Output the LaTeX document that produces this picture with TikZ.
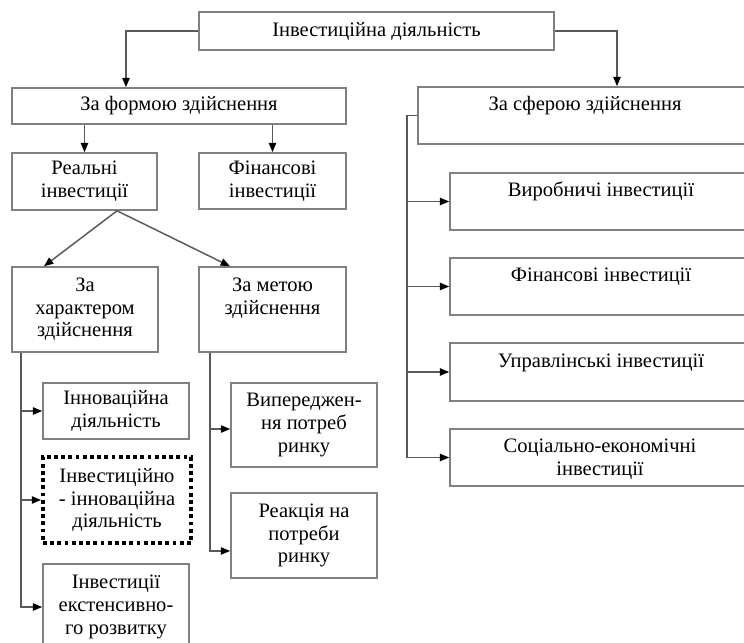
\documentclass[tikz,border=0pt]{standalone}
\usepackage{fontspec}
\setmainfont{Liberation Serif}
\usetikzlibrary{arrows.meta,calc}
\begin{document}
\begin{tikzpicture}[x=0.75pt,y=-0.75pt,
  lbl/.style={font=\fontsize{15.4}{17}\selectfont, align=center, text=black},
  box/.style={lbl, draw=black!50, line width=1.2pt, inner sep=0pt},
  dotbox/.style={lbl, draw=black, line width=2.8pt, dash pattern=on 2.8pt off 2.6pt, inner sep=0pt},
  txt/.style={lbl, inner sep=0pt},
  arr/.style={draw=black!65, line width=1.1pt, -{Triangle[length=7pt,width=5.5pt,black]}}]
\useasboundingbox (0,0) rectangle (744,643);
\clip (0,0) rectangle (744,643);
% boxes
\node[box, minimum width=266.25pt, minimum height=28.5pt] (top) at (376.5,31) {Інвестиційна діяльність};
\node[box, minimum width=250.5pt, minimum height=27pt] (forma) at (179,106) {За формою здійснення};
\node[box, minimum width=279pt, minimum height=42.75pt] (sfera) at (604,115.5) {};
\node[txt] (sferat) at (585,106) {За сферою здійснення};
\node[box, minimum width=108.75pt, minimum height=42.75pt] (real) at (84.5,181.5) {Реальні\\інвестиції};
\node[box, minimum width=110.25pt, minimum height=42pt] (fin) at (272.5,181) {Фінансові\\інвестиції};
\node[box, minimum width=109.5pt, minimum height=63.75pt] (char) at (85,309.5) {За\\характером\\здійснення};
\node[box, minimum width=110.25pt, minimum height=63.75pt] (meta) at (272.5,309.5) {};
\node[txt] (metat) at (272.5,298) {За метою\\здійснення};
\node[box, minimum width=109.5pt, minimum height=42pt] (innov) at (116,411) {Інноваційна\\діяльність};
\node[dotbox, minimum width=111pt, minimum height=64.5pt] (dots) at (117,500) {Інвестиційно\\- інноваційна\\діяльність};
\node[box, minimum width=109.5pt, minimum height=64.5pt] (ext) at (116,607) {Інвестиції\\екстенсивно-\\го розвитку};
\node[box, minimum width=109.5pt, minimum height=63pt] (vyp) at (304,425) {Випереджен-\\ня потреб\\ринку};
\node[box, minimum width=109.5pt, minimum height=63.75pt] (reak) at (304,535.5) {Реакція на\\потреби\\ринку};
\node[box, minimum width=255pt, minimum height=42.75pt] (vyr) at (620,201.5) {};
\node[txt] (vyrt) at (601,191) {Виробничі інвестиції};
\node[box, minimum width=255pt, minimum height=42.75pt] (finr) at (620,286.5) {};
\node[txt] (finrt) at (601,277) {Фінансові інвестиції};
\node[box, minimum width=255pt, minimum height=43.5pt] (upr) at (620,372) {};
\node[txt] (uprt) at (601,363) {Управлінські інвестиції};
\node[box, minimum width=255pt, minimum height=42.75pt] (soc) at (620,457.5) {};
\node[txt] (soct) at (600,459) {Соціально-економічні\\інвестиції};
% connectors
\draw[arr] (top.west) -| ([xshift=-39.75pt]forma.north);
\draw[arr] (top.east) -| ([xshift=9.75pt]sfera.north);
\draw[arr] (forma.south -| real.north) -- (real.north);
\draw[arr] (forma.south -| fin.north) -- (fin.north);
\coordinate (rs) at ([xshift=24.4pt]real.south);
\draw[arr] (rs) -- ([xshift=-30.75pt]char.north);
\draw[arr] (rs) -- ([xshift=-31.9pt]meta.north);
\draw[arr] ([xshift=7.5pt]char.south west) |- (innov.west);
\draw[arr] ([xshift=7.5pt]char.south west) |- (dots.west);
\draw[arr] ([xshift=7.5pt]char.south west) |- (ext.west);
\draw[arr] ([xshift=9pt]meta.south west) |- ([yshift=-3pt]vyp.west);
\draw[arr] ([xshift=9pt]meta.south west) |- ([yshift=-11.6pt]reak.west);
\draw[arr] (sfera.west) -- ++(-10,0) |- (vyr.west);
\draw[arr] (sfera.west) -- ++(-10,0) |- (finr.west);
\draw[arr] (sfera.west) -- ++(-10,0) |- (upr.west);
\draw[arr] (sfera.west) -- ++(-10,0) |- (soc.west);
\end{tikzpicture}
\end{document}
